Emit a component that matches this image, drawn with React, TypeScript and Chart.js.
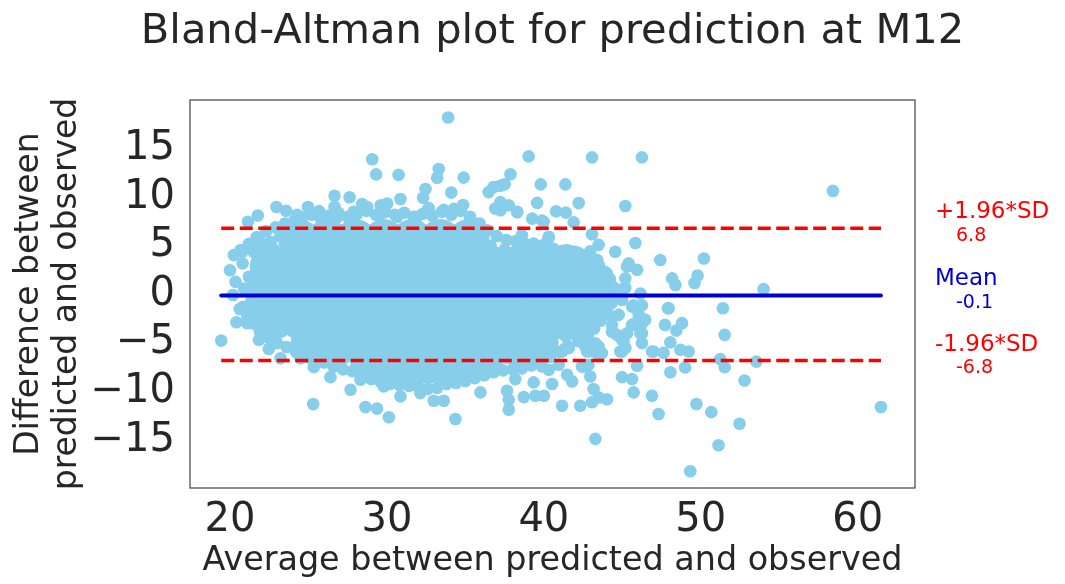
import React, { useEffect, useRef } from 'react';
import { Chart, registerables } from 'chart.js';

Chart.register(...registerables);

const W = 1065;
const H = 584;

const TITLE = 'Bland-Altman plot for prediction at M12';
const X_LABEL = 'Average between predicted and observed';
const Y_LABEL = ['Difference between', 'predicted and observed'];
const xTicks = [20, 30, 40, 50, 60];
const yTicks = [-15, -10, -5, 0, 5, 10, 15];

const meanDiff = -0.1;
const upperLoA = 6.8;
const lowerLoA = -6.8;
const limitNames = ['+1.96*SD', 'Mean', '-1.96*SD'];

type P = [number, number];

// interior of the dense cloud (drawn with wide markers, fully overlapped in the reference)
const denseCloud: P[] = [
  [24.4, 5.6], [26.2, 5.6], [28.0, 5.6], [29.8, 5.6], [31.6, 5.6], [33.4, 5.6], [35.2, 5.6],
  [22.6, 2.9], [24.0, 2.9], [25.8, 2.9], [27.6, 2.9], [29.4, 2.9], [31.2, 2.9], [33.0, 2.9], [34.8, 2.9], [36.6, 2.9], [38.4, 2.9], [40.2, 2.9], [41.8, 2.9],
  [22.3, 0.2], [23.9, 0.2], [25.6, 0.2], [27.3, 0.2], [29.0, 0.2], [30.8, 0.2], [32.6, 0.2], [34.4, 0.2], [36.2, 0.2], [38.0, 0.2], [39.8, 0.2], [41.6, 0.2], [43.2, 0.2],
  [22.8, -2.5], [24.5, -2.5], [26.2, -2.5], [28.0, -2.5], [29.8, -2.5], [31.6, -2.5], [33.4, -2.5], [35.2, -2.5], [37.0, -2.5], [38.8, -2.5], [40.6, -2.5], [42.2, -2.5],
  [25.2, -5.0], [27.0, -5.0], [28.8, -5.0], [30.6, -5.0], [32.4, -5.0], [34.2, -5.0], [36.0, -5.0], [37.8, -5.0], [39.6, -5.0],
  [29.0, -7.0], [30.8, -7.0], [32.6, -7.0], [34.4, -7.0], [36.0, -6.6],
];

// points along the border of the dense cloud
const cloudEdge: P[] = [
  [21.2, 5.2], [21.7, 5.9], [22.3, 6.5], [22.9, 6.9], [23.5, 7.3], [24.1, 7.6], [24.6, 7.9], [25.2, 8.2], [25.8, 7.8], [26.3, 8.1],
  [26.9, 8.4], [27.5, 8.0], [28.1, 8.3], [28.7, 8.6], [29.3, 8.2], [29.9, 8.5], [30.5, 8.2], [31.1, 8.4], [31.7, 8.0], [32.3, 8.3],
  [32.9, 8.1], [33.5, 8.5], [34.1, 8.2], [34.7, 8.6], [35.3, 8.0], [35.9, 7.3], [36.4, 6.6], [37.0, 6.0], [37.6, 5.6], [38.2, 5.5],
  [38.8, 5.2], [39.4, 5.0], [40.0, 5.1], [40.6, 4.7], [41.2, 4.5], [41.8, 4.2], [42.4, 4.0], [43.0, 3.6], [43.5, 3.0], [43.9, 2.3],
  [36.6, 5.0], [37.5, 4.6], [39.3, 4.3], [41.0, 3.8], [42.6, 3.2], [43.2, 2.0], [21.9, 4.8], [22.6, 5.4], [23.2, 6.0], [22.8, 4.6],
  [23.5, 5.8], [24.3, 6.0],
  [44.2, 1.6], [44.4, 0.8], [44.5, 0.0], [44.3, -0.9], [44.0, -1.8], [43.6, -2.7], [43.2, -3.5], [42.8, -4.3], [42.2, -4.8], [41.4, -4.3],
  [40.9, -3.6],
  [41.6, -5.4], [41.0, -5.9], [40.4, -6.4], [39.8, -6.9], [39.2, -7.3], [38.6, -7.6], [38.0, -7.7], [37.4, -7.8], [36.8, -8.0], [36.2, -8.3],
  [35.6, -8.6], [35.0, -8.9], [34.4, -9.1], [33.8, -9.2], [33.2, -9.6], [32.6, -9.7], [32.0, -9.5], [31.4, -9.4], [30.8, -9.3], [30.2, -9.2],
  [29.6, -9.0], [29.0, -8.7], [28.4, -8.3], [27.8, -7.9], [27.2, -7.7], [26.6, -7.4], [26.0, -7.0], [25.4, -6.7], [24.8, -6.3], [24.2, -5.9],
  [23.6, -5.4], [23.0, -5.0], [22.4, -4.4], [21.9, -3.8], [21.5, -3.0], [21.1, -2.2], [20.8, -1.3],
  [37.0, -7.0], [38.2, -6.9], [38.8, -6.6], [36.9, -6.4], [33.5, -8.6], [31.7, -8.7], [29.9, -8.5], [25.6, -6.0], [27.2, -6.6], [40.2, -5.8],
  [39.5, -6.2],
  [20.24, 4.05], [20.78, 4.4], [21.5, 4.4], [20.0, 2.5], [20.35, 1.3], [20.18, -0.05], [20.62, -1.5], [20.41, -2.85], [21.1, -2.95], [21.94, 5.4],
  [21.2, 1.83], [20.67, 4.56], [22.37, 3.37], [21.84, -4.67], [22.47, -5.6], [23.22, -6.55], [24.49, -6.55], [20.9, 0.6], [21.3, -0.9], [21.6, -1.8],
  [20.8, 3.2],
];

// scattered points above / right of the cloud
const upperPoints: P[] = [
  [33.9, 18.2], [29.06, 13.9], [29.31, 12.35], [30.74, 12.3], [33.3, 12.9], [33.2, 12.0], [32.46, 10.85], [32.3, 9.95], [26.66, 10.15], [26.66, 9.0],
  [27.62, 10.0], [22.96, 9.0], [21.77, 8.12], [21.14, 7.48], [24.97, 9.0], [23.58, 8.6], [25.68, 8.57], [28.42, 9.3], [28.74, 9.0], [30.86, 9.82],
  [29.6, 9.18], [30.01, 9.35], [34.1, 10.48], [34.89, 12.02], [34.85, 9.2], [34.7, 8.7], [39.03, 14.2], [43.07, 14.1], [46.25, 14.1], [37.87, 12.36],
  [36.48, 10.53], [36.8, 11.06], [37.23, 11.18], [37.5, 11.33], [39.8, 11.32], [41.37, 11.32], [39.57, 9.42], [42.22, 9.4], [45.19, 9.1], [37.23, 9.5],
  [37.76, 9.18], [36.9, 8.85], [38.3, 8.45], [40.78, 8.55], [41.4, 8.42], [41.9, 7.42], [43.07, 6.2], [43.49, 5.1], [44.55, 4.4], [45.83, 5.3],
  [47.42, 3.54], [50.2, 3.7], [45.3, 2.88], [45.94, 2.55], [44.02, 2.17], [48.17, 1.66], [48.38, 0.97], [49.8, 1.96], [49.6, 1.18], [45.19, 1.66],
  [45.19, 0.7], [40.1, 3.54], [38.6, 6.1], [40.3, 5.8], [39.35, 5.25], [39.67, 4.4], [42.96, 4.45], [43.4, 3.54], [44.02, 1.3], [43.7, 2.0],
  [58.42, 10.65], [54.0, 0.55], [35.32, 7.64], [37.23, 8.67], [38.29, 8.5], [39.25, 7.8], [39.88, 7.6], [39.99, 7.47], [32.66, 8.9], [33.62, 8.7],
  [34.26, 8.8], [31.92, 8.0], [30.65, 8.0], [29.6, 8.3], [27.89, 8.5], [26.82, 7.9], [25.76, 8.0], [24.28, 8.2], [41.48, 4.56], [41.05, 3.88],
  [41.69, 4.05], [42.11, 3.71], [42.75, 3.2], [43.39, 3.2], [43.92, 2.17], [43.28, 1.83], [42.32, 1.66], [41.48, 1.49], [40.63, 1.83], [39.99, 2.51],
  [41.05, 2.51], [41.9, 2.85], [42.54, 2.34], [45.4, 3.2], [46.15, 0.1], [44.87, 0.46], [42.75, 0.3], [41.69, 0.46], [40.31, 5.93],
];

// scattered points below / right of the cloud
const lowerPoints: P[] = [
  [61.48, -11.57], [49.33, -18.17], [51.13, -15.5], [52.47, -13.3], [50.67, -12.1], [49.72, -11.27], [47.31, -12.29], [43.28, -14.85], [52.79, -8.84], [53.54, -6.9],
  [51.52, -7.47], [51.24, -6.65], [51.52, -4.15], [51.41, -1.42], [47.95, -1.42], [47.72, -3.13], [48.44, -3.71], [48.8, -2.95], [48.06, -4.92], [46.98, -5.87],
  [47.63, -6.0], [48.7, -5.7], [49.23, -5.87], [48.06, -8.0], [49.0, -7.5], [45.94, -7.33], [44.98, -8.5], [45.62, -8.7], [45.72, -10.07], [46.89, -10.41],
  [46.25, -5.0], [44.98, -5.87], [45.08, -4.84], [44.35, -3.8], [45.62, -3.13], [46.15, -3.98], [46.46, -2.6], [45.72, -1.1], [46.25, -1.1], [44.98, -0.56],
  [42.96, -8.43], [43.17, -9.72], [43.5, -10.6], [44.02, -10.78], [43.07, -11.08], [42.32, -11.44], [41.16, -11.44], [41.48, -8.26], [41.8, -8.94], [40.52, -9.2],
  [40.0, -10.41], [44.66, -4.15], [45.19, -5.5], [43.28, -5.18], [43.17, -5.87], [43.5, -6.2], [42.75, -5.87], [42.53, -7.4], [42.53, -5.0], [42.22, -1.76],
  [43.07, -1.59], [43.7, -1.59], [44.34, -2.27], [44.77, -2.1], [45.62, -1.25], [46.25, -3.98], [45.83, -2.96], [45.3, -3.98], [44.34, -3.81], [42.85, -3.64],
  [43.07, -2.96], [41.79, -2.79], [41.79, -3.98], [41.58, -5.52], [41.16, -5.86], [42.64, -5.35], [43.49, -5.35], [43.7, -6.03], [44.98, -4.67], [44.87, -5.86],
  [46.89, -5.86], [47.91, -1.42], [38.72, -10.55], [39.46, -10.41], [39.35, -9.04], [38.18, -8.7], [37.65, -9.9], [37.76, -10.82], [37.76, -11.85], [35.96, -10.07],
  [34.36, -12.8], [40.94, -7.23], [42.43, -7.4], [42.85, -7.23], [39.88, -7.4], [40.31, -7.74], [41.37, -5.52], [43.07, -5.52], [43.28, -5.01], [42.64, -3.3],
  [42.64, -2.27], [41.37, -2.1], [40.73, -2.79], [44.34, -3.13], [46.04, -2.1], [46.25, -2.96],
  [25.3, -11.27], [25.34, -7.47], [26.4, -8.5], [27.68, -9.8], [28.31, -8.77], [28.63, -11.57], [29.37, -11.74], [30.12, -12.63], [29.8, -9.45], [30.86, -10.48],
  [32.13, -10.14], [32.98, -10.92], [33.62, -10.92], [19.44, -4.74],
];

const TEXT = '#262626';
const SKY = '#87CEEB';
const FONT = '"DejaVu Sans", sans-serif';

const toXY = (arr: P[]) => arr.map(([x, y]) => ({ x, y }));

export default function App() {
  const ref = useRef<HTMLCanvasElement>(null);

  useEffect(() => {
    const canvas = ref.current;
    if (!canvas) return;
    Chart.defaults.font.family = FONT;

    const all = [...denseCloud, ...cloudEdge, ...upperPoints, ...lowerPoints];
    const xMin = Math.min(...all.map((p) => p[0]));
    const xMax = Math.max(...all.map((p) => p[0]));
    const hline = (y: number) => [{ x: xMin, y }, { x: xMax, y }];

    const annotate = {
      id: 'baAnnotations',
      afterDraw(chart: any) {
        const { ctx, chartArea, scales } = chart;
        ctx.save();
        // frame
        ctx.strokeStyle = '#4a4a4a';
        ctx.lineWidth = 1.25;
        ctx.strokeRect(chartArea.left, chartArea.top, chartArea.right - chartArea.left, chartArea.bottom - chartArea.top);
        // title centred over the axes
        ctx.fillStyle = TEXT;
        ctx.font = `41.6px ${FONT}`;
        ctx.textAlign = 'center';
        ctx.textBaseline = 'middle';
        ctx.fillText(TITLE, (chartArea.left + chartArea.right) / 2, 32);
        // limit labels
        const entries: [string, number, string][] = [
          [limitNames[0], upperLoA, '#FF0000'],
          [limitNames[1], meanDiff, '#0000CD'],
          [limitNames[2], lowerLoA, '#FF0000'],
        ];
        ctx.textAlign = 'left';
        for (const [name, val, col] of entries) {
          const py = scales.y.getPixelForValue(val);
          ctx.fillStyle = col;
          ctx.font = `23px ${FONT}`;
          ctx.fillText(name, chartArea.right + 20, py - 16);
          ctx.font = `19px ${FONT}`;
          ctx.fillText(val.toFixed(1), chartArea.right + 41, py + 7.5);
        }
        ctx.restore();
      },
    };

    const chart = new Chart(canvas, {
      type: 'scatter',
      data: {
        datasets: [
          {
            data: hline(meanDiff),
            showLine: true,
            borderColor: '#0000CD',
            borderWidth: 4,
            borderCapStyle: 'round',
            pointRadius: 0,
            order: 0,
          } as any,
          {
            data: hline(upperLoA),
            showLine: true,
            borderColor: '#FF0000',
            borderWidth: 3.5,
            borderDash: [13, 5.5],
            pointRadius: 0,
            order: 0,
          },
          {
            data: hline(lowerLoA),
            showLine: true,
            borderColor: '#FF0000',
            borderWidth: 3.5,
            borderDash: [13, 5.5],
            pointRadius: 0,
            order: 0,
          },
          {
            data: toXY([...cloudEdge, ...upperPoints, ...lowerPoints]),
            backgroundColor: SKY,
            borderWidth: 0,
            pointRadius: 6.3,
            order: 1,
          },
          {
            data: toXY(denseCloud),
            backgroundColor: SKY,
            borderWidth: 0,
            pointRadius: 21,
            order: 2,
          },
        ],
      },
      options: {
        responsive: false,
        maintainAspectRatio: false,
        devicePixelRatio: 1,
        animation: false,
        events: [],
        layout: { padding: { left: 0, right: 150, top: 100, bottom: 0 } },
        plugins: {
          legend: { display: false },
          tooltip: { enabled: false },
          title: { display: false },
        },
        scales: {
          x: {
            type: 'linear',
            min: 17.45,
            max: 63.65,
            grid: { display: false, drawTicks: false },
            border: { display: false },
            afterBuildTicks: (axis: any) => {
              axis.ticks = xTicks.map((v) => ({ value: v }));
            },
            afterFit: (axis: any) => {
              axis.height = 96;
            },
            ticks: {
              color: TEXT,
              font: { family: FONT, size: 40 },
              padding: 9,
              maxRotation: 0,
              autoSkip: false,
            },
            title: {
              display: true,
              text: X_LABEL,
              color: TEXT,
              font: { family: FONT, size: 33.4 },
              padding: { top: 0, bottom: 3 },
            },
          },
          y: {
            type: 'linear',
            min: -19.9,
            max: 20.0,
            grid: { display: false, drawTicks: false },
            border: { display: false },
            afterBuildTicks: (axis: any) => {
              axis.ticks = yTicks.map((v) => ({ value: v }));
            },
            afterFit: (axis: any) => {
              axis.width = 190;
            },
            ticks: {
              color: TEXT,
              font: { family: FONT, size: 40 },
              padding: 15,
              callback: (v: any) => (Number(v) < 0 ? '\u2212' + Math.abs(Number(v)) : String(v)),
            },
            title: {
              display: true,
              text: Y_LABEL,
              color: TEXT,
              font: { family: FONT, size: 33, lineHeight: 1.15 },
              padding: { top: 10, bottom: 0 },
            },
          },
        },
      },
      plugins: [annotate],
    } as any);

    return () => chart.destroy();
  }, []);

  return (
    <div style={{ position: 'fixed', left: 0, top: 0, width: W, height: H, background: '#ffffff' }}>
      <canvas ref={ref} width={W} height={H} style={{ width: W, height: H, display: 'block' }} />
    </div>
  );
}
